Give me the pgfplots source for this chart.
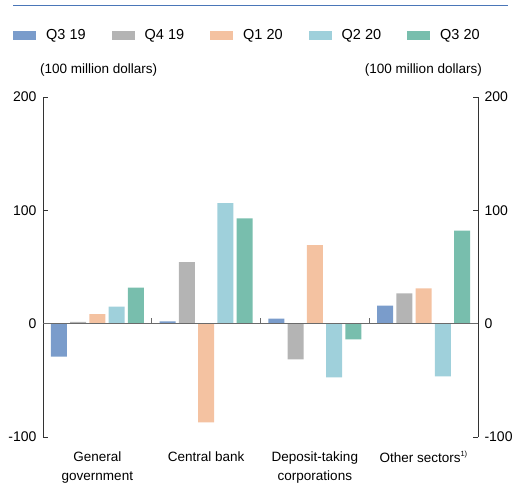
\documentclass[border=0pt]{standalone}
\usepackage{pgfplots}
\pgfplotsset{compat=1.18}
\usepackage{fontspec}
\setmainfont{Liberation Sans}
\definecolor{cA}{HTML}{7A9CCB}
\definecolor{cB}{HTML}{B4B4B4}
\definecolor{cC}{HTML}{F4C2A1}
\definecolor{cD}{HTML}{9FD0DB}
\definecolor{cE}{HTML}{78BEAD}
\definecolor{topline}{HTML}{4A76B8}
\definecolor{axgray}{HTML}{333333}
\definecolor{zgray}{HTML}{6A6A6A}
\begin{document}
\begin{tikzpicture}
\useasboundingbox (0pt,0pt) rectangle (515pt,485pt);
\draw[topline, line width=0.9pt] (13pt,480pt) -- (508pt,480pt);
\node[anchor=west, font=\fontsize{13.5}{15}\selectfont, inner sep=0pt] at (40pt,415pt) {(100 million dollars)};
\node[anchor=east, font=\fontsize{13.5}{15}\selectfont, inner sep=0pt] at (482pt,415pt) {(100 million dollars)};
\pgfplotsset{
  base/.style={
    at={(43pt,48pt)}, anchor=south west,
    width=435pt, height=340pt, scale only axis,
    xmin=-0.5, xmax=3.5, ymin=-100, ymax=200,
    ytick={-100,0,100,200},
    tick align=inside, major tick length=5pt,
    tick style={axgray, line width=0.8pt},
    axis line style={axgray, line width=0.8pt},
    /pgf/number format/assume math mode=true,
    tick label style={font=\fontsize{14}{16}\selectfont, text=black},
  }
}
\begin{axis}[base,
  name=main,
  axis y line*=left,
  axis x line*=bottom,
  x axis line style={draw=none},
  xtick={0,1,2,3},
  xtick style={draw=none},
  xticklabels={{General\\government},{Central bank},{Deposit-taking\\corporations},{Other sectors\textsuperscript{\fontsize{7.5}{8}\selectfont 1)}}},
  xticklabel style={align=center, font=\fontsize{13.5}{19}\selectfont, yshift=-6pt},
  yticklabel style={xshift=-3pt},
  ybar=3.3pt, bar width=16pt,
  legend columns=5,
  legend style={at={(-0.069,1.182)}, anchor=west, draw=none, fill=none,
    font=\fontsize{14.5}{16}\selectfont,
    /tikz/every even column/.append style={column sep=12.5pt},
    inner sep=0pt},
  legend image code/.code={\fill[#1] (0pt,-4.5pt) rectangle (23pt,4.5pt);},
  legend cell align=left,
]
\addplot[fill=cA, draw=none] coordinates {(0,-29) (1,2) (2,4.4) (3,15.9)};
\addplot[fill=cB, draw=none] coordinates {(0,1.5) (1,54.4) (2,-31.5) (3,26.8)};
\addplot[fill=cC, draw=none] coordinates {(0,8.5) (1,-87) (2,69.2) (3,31.2)};
\addplot[fill=cD, draw=none] coordinates {(0,15) (1,106.3) (2,-47.4) (3,-46.5)};
\addplot[fill=cE, draw=none] coordinates {(0,31.8) (1,93) (2,-13.9) (3,82.1)};
\legend{\hspace{8pt}\makebox[51pt][l]{Q3 19},\hspace{8pt}\makebox[51pt][l]{Q4 19},\hspace{8pt}\makebox[51pt][l]{Q1 20},\hspace{8pt}\makebox[51pt][l]{Q2 20},\hspace{8pt}\makebox[51pt][l]{Q3 20}}
\end{axis}
\begin{axis}[base,
  axis y line*=right,
  axis x line=none,
  yticklabel style={xshift=3pt, anchor=west},
]
\end{axis}
\draw[zgray, line width=1pt] (43pt,161.33pt) -- (478pt,161.33pt);
\draw[zgray, line width=1.2pt] (151.75pt,161.33pt) -- (151.75pt,166.5pt);
\draw[zgray, line width=1.2pt] (260.5pt,161.33pt) -- (260.5pt,166.5pt);
\draw[zgray, line width=1.2pt] (369.25pt,161.33pt) -- (369.25pt,166.5pt);
\end{tikzpicture}
\end{document}
